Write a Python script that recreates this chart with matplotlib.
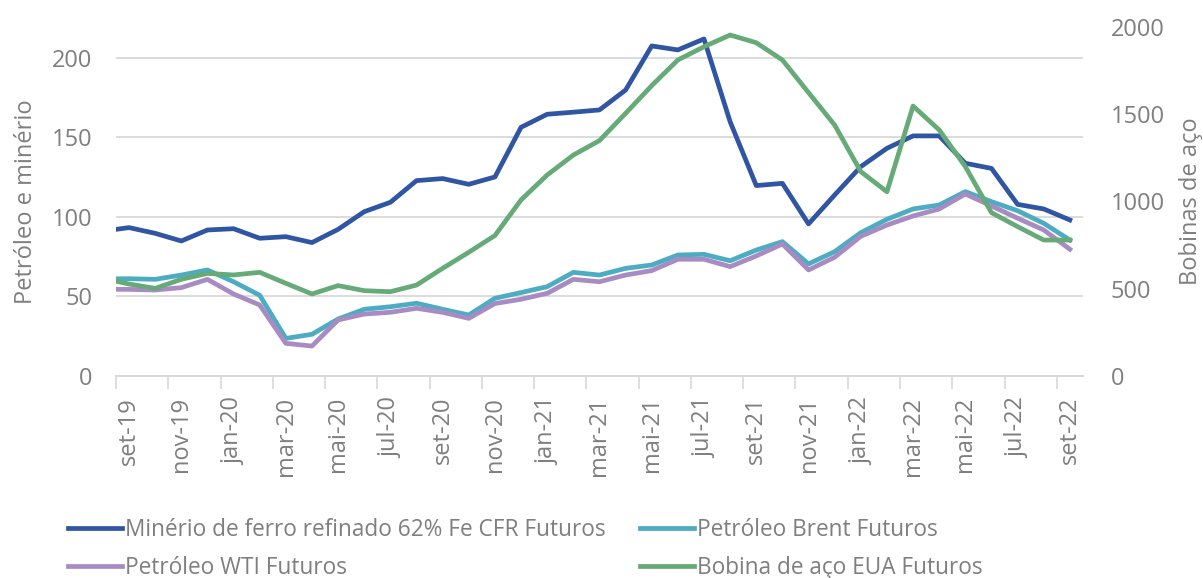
import numpy as np
import matplotlib
matplotlib.use("Agg")
import matplotlib.pyplot as plt

# monthly data, ago-19 .. set-22 (first point sits left of the axis and is clipped)
months = ["ago-19", "set-19", "out-19", "nov-19", "dez-19", "jan-20", "fev-20",
          "mar-20", "abr-20", "mai-20", "jun-20", "jul-20", "ago-20", "set-20",
          "out-20", "nov-20", "dez-20", "jan-21", "fev-21", "mar-21", "abr-21",
          "mai-21", "jun-21", "jul-21", "ago-21", "set-21", "out-21", "nov-21",
          "dez-21", "jan-22", "fev-22", "mar-22", "abr-22", "mai-22", "jun-22",
          "jul-22", "ago-22", "set-22"]

minerio = [91, 93.2, 89.6, 84.8, 91.7, 92.5, 86.5, 87.5, 83.8, 92.1, 103.2, 109.1,
           122.7, 124, 120.4, 125, 156.2, 164.4, 165.7, 167.1, 179.6, 207.3, 204.8,
           211.7, 159.7, 119.6, 121, 95.5, 113.7, 131.5, 143, 150.8, 150.8, 133.6,
           130.4, 107.8, 104.9, 98]

brent = [61, 61.1, 60.7, 63.4, 66.6, 59.2, 50.7, 23.6, 26.2, 35.8, 41.9, 43.5,
         45.7, 41.9, 38.3, 48.8, 52.4, 56.1, 65.1, 63.4, 67.6, 69.7, 76.0, 76.4,
         72.4, 79.1, 84.4, 70.4, 78.1, 90.0, 98.4, 104.9, 107.4, 115.8, 109.5,
         103.8, 95.9, 85.4]

wti = [54.5, 54.4, 54.0, 55.5, 60.7, 51.5, 44.6, 20.5, 18.8, 35.2, 38.9, 40.0,
       42.5, 40.0, 36.2, 45.5, 48.2, 51.9, 60.7, 59.2, 63.4, 66.2, 73.3, 73.3,
       68.7, 75.4, 82.9, 66.6, 74.6, 87.7, 94.8, 100.5, 104.9, 114.3, 106.8,
       99.1, 91.7, 79.6]

bobina = [560, 527, 502, 554, 588, 579, 594, 531, 470, 518, 489, 483, 521, 617,
          709, 805, 1009, 1152, 1266, 1349, 1505, 1664, 1811, 1887, 1954, 1910,
          1811, 1624, 1438, 1171, 1056, 1547, 1410, 1200, 936, 856, 779, 779]

labels = ["Minério de ferro refinado 62% Fe CFR Futuros", "Petróleo Brent Futuros",
          "Petróleo WTI Futuros", "Bobina de aço EUA Futuros"]

plt.rcParams["font.family"] = ["Open Sans", "DejaVu Sans"]
grey = "#7F7F7F"
fs = 17

# month index relative to set-19, points sit mid-month
x = np.arange(len(months)) - 1 + 0.5

fig = plt.figure(figsize=(12.03, 5.78), dpi=100)
ax = fig.add_axes([0.0964, 0.3495, 0.8038, 0.6038])
ax2 = ax.twinx()

lw = 3.4
l1, = ax.plot(x, minerio, color="#2F55A3", lw=lw, label=labels[0])
l2, = ax.plot(x, brent, color="#4BACC2", lw=lw, label=labels[1])
l3, = ax.plot(x, wti, color="#A98BC3", lw=lw, label=labels[2])
l4, = ax2.plot(x, bobina, color="#66AB77", lw=lw, label=labels[3])

ax.set_xlim(0, 37)
ax.set_ylim(0, 219.2)
ax2.set_ylim(0, 2000)

ax.set_yticks([0, 50, 100, 150, 200])
ax2.set_yticks([0, 500, 1000, 1500, 2000])
ax.grid(axis="y", color="#D9D9D9", lw=1.3)
ax.set_axisbelow(True)

# labels at mid-month, tick marks on month boundaries every two months
tick_idx = list(range(1, len(months), 2))
ax.set_xticks([x[i] for i in tick_idx])
ax.set_xticklabels([months[i] for i in tick_idx], rotation=90)
ax.set_xticks(np.arange(0, 37, 2), minor=True)
ax.tick_params(axis="x", which="major", length=0, pad=15, labelsize=fs, labelcolor=grey)
ax.tick_params(axis="x", which="minor", length=9, width=1.2, color="#D9D9D9")
ax.tick_params(axis="y", length=0, pad=17, labelsize=fs, labelcolor=grey)
ax2.tick_params(axis="y", length=0, pad=20, labelsize=fs, labelcolor=grey)

for a in (ax, ax2):
    for s in ("top", "left", "right"):
        a.spines[s].set_visible(False)
    a.spines["bottom"].set_color("#D9D9D9")
    a.spines["bottom"].set_linewidth(1.3)

ax.set_ylabel("Petróleo e minério", fontsize=fs, color=grey, labelpad=10)
ax2.set_ylabel("Bobinas de aço", fontsize=fs, color=grey, labelpad=10)

fig.legend(handles=[l1, l3, l2, l4], ncol=2, loc="upper left",
           bbox_to_anchor=(0.049, 0.119), frameon=False, fontsize=16.3,
           labelcolor=grey, handlelength=2.4, handletextpad=0.12,
           columnspacing=1.5, labelspacing=0.62, borderaxespad=0)

fig.savefig("out.png", dpi=100)
